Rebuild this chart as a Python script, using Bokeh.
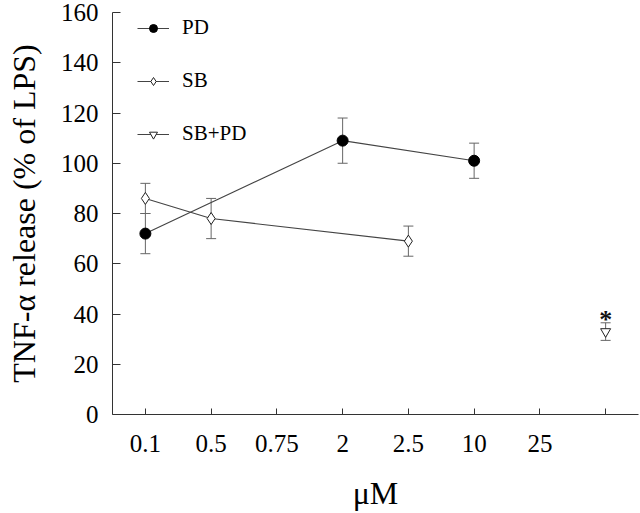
from bokeh.plotting import figure
from bokeh.models import (ColumnDataSource, Range1d, FixedTicker, Whisker, TeeHead,
                          Legend, LegendItem)
from bokeh.core.properties import value
from bokeh.embed import file_html
from bokeh.resources import INLINE

# ---- data ----
x_labels = ["0.1", "0.5", "0.75", "2", "2.5", "10", "25", "SB+PD"]
y_ticks = [0, 20, 40, 60, 80, 100, 120, 140, 160]

pd_conc = ["0.1", "2", "10"]
pd_mean = [72, 109, 101]
pd_err = [8, 9, 7]

sb_conc = ["0.1", "0.5", "2.5"]
sb_mean = [86, 78, 69]
sb_err = [6, 8, 6]

sbpd_conc = ["SB+PD"]
sbpd_mean = [33]
sbpd_err = [3.5]
sbpd_mark = ["*"]

FONT = "Liberation Serif"

def pos(labels):
    return [x_labels.index(l) + 1 for l in labels]

def src(conc, mean, err):
    x = pos(conc)
    return ColumnDataSource(dict(x=x, y=mean,
                                 lo=[m - e for m, e in zip(mean, err)],
                                 hi=[m + e for m, e in zip(mean, err)]))

p = figure(width=640, height=513, output_backend="svg", toolbar_location=None,
           x_range=Range1d(0.5, len(x_labels) + 0.5), y_range=Range1d(0, 160),
           min_border_left=112, min_border_right=2, min_border_top=12, min_border_bottom=97)
p.grid.visible = False
p.outline_line_color = None
p.background_fill_color = "white"
p.border_fill_color = "white"

# axes
xa = p.xaxis[0]
xa.ticker = FixedTicker(ticks=list(range(1, len(x_labels) + 1)))
xa.major_label_overrides = {i + 1: (l if l != "SB+PD" else "") for i, l in enumerate(x_labels)}
xa.major_tick_in = 6
xa.major_tick_out = 0
xa.minor_tick_line_color = None
xa.major_label_text_font = FONT
xa.major_label_text_font_size = "25px"
xa.major_label_standoff = 20
xa.axis_label = "μM"
xa.axis_label_text_font = FONT
xa.axis_label_text_font_size = "32px"
xa.axis_label_text_font_style = "normal"
xa.axis_label_standoff = 20
xa.axis_line_color = "#333333"
xa.major_tick_line_color = "#333333"
xa.major_label_text_color = "black"
xa.axis_label_text_color = "black"

ya = p.yaxis[0]
ya.ticker = FixedTicker(ticks=y_ticks)
ya.major_tick_in = 8
ya.major_tick_out = 0
ya.minor_tick_line_color = None
ya.major_label_text_font = FONT
ya.major_label_text_font_size = "25px"
ya.major_label_standoff = 14
ya.axis_label = "TNF-α release (% of LPS)"
ya.axis_label_text_font = FONT
ya.axis_label_text_font_size = "32px"
ya.axis_label_text_font_style = "normal"
ya.axis_label_standoff = 16
ya.axis_line_color = "#333333"
ya.major_tick_line_color = "#333333"
ya.major_label_text_color = "black"
ya.axis_label_text_color = "black"

LINE = "#444444"
ERR = "#666666"

s_pd = src(pd_conc, pd_mean, pd_err)
s_sb = src(sb_conc, sb_mean, sb_err)
s_sbpd = src(sbpd_conc, sbpd_mean, sbpd_err)

for s in (s_pd, s_sb, s_sbpd):
    w = Whisker(base="x", upper="hi", lower="lo", dimension="height", source=s,
                line_color=ERR, line_width=1,
                upper_head=TeeHead(size=10, line_color=ERR, line_width=1),
                lower_head=TeeHead(size=10, line_color=ERR, line_width=1))
    p.add_layout(w)

l_pd = p.line("x", "y", source=s_pd, line_color=LINE, line_width=1.1)
m_pd = p.scatter("x", "y", source=s_pd, marker="circle", size=11,
                 fill_color="black", line_color="black")

l_sb = p.line("x", "y", source=s_sb, line_color=LINE, line_width=1.1)
m_sb = p.scatter("x", "y", source=s_sb, marker="diamond", size=12,
                 fill_color="white", line_color="#222222", line_width=1)

l_sbpd = p.line("x", "y", source=s_sbpd, line_color=LINE, line_width=1.1)
m_sbpd = p.scatter("x", "y", source=s_sbpd, marker="inverted_triangle", size=10,
                   fill_color="white", line_color="#222222", line_width=1)

p.text(x=pos(sbpd_conc), y=[m + e for m, e in zip(sbpd_mean, sbpd_err)], text=sbpd_mark,
       text_font=value(FONT), text_font_size="26px", text_font_style="bold",
       text_align="center", text_baseline="bottom", y_offset=11, text_color="#111111")

legend = Legend(items=[
    LegendItem(label="PD", renderers=[l_pd, m_pd]),
    LegendItem(label="SB", renderers=[l_sb, m_sb]),
    LegendItem(label="SB+PD", renderers=[l_sbpd, m_sbpd]),
], location=(25, 268))
legend.border_line_color = None
legend.background_fill_alpha = 0
legend.padding = 0
legend.margin = 0
legend.spacing = 28
legend.glyph_width = 32
legend.glyph_height = 20
legend.label_height = 20
legend.label_standoff = 13
legend.label_text_font = FONT
legend.label_text_font_size = "21px"
legend.label_text_color = "black"
p.add_layout(legend)

open("out.html", "w").write(file_html(p, INLINE))
